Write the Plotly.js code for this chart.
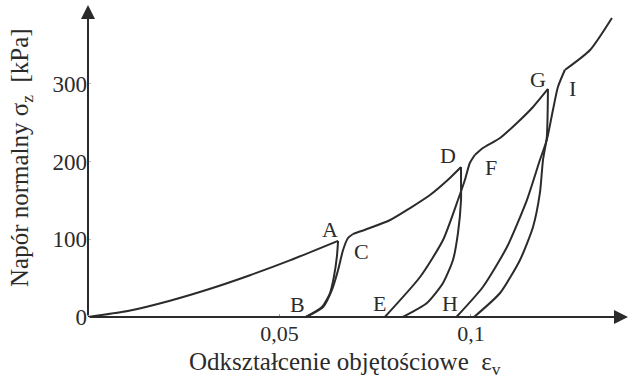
<!DOCTYPE html>
<html>
<head>
<meta charset="utf-8">
<script src="https://cdn.plot.ly/plotly-3.0.1.min.js"></script>
<style>
  html, body { margin: 0; padding: 0; background: #ffffff; }
  #chart { width: 629px; height: 379px; }
</style>
</head>
<body>
<div id="chart"></div>
<script>
// Volumetric strain (εv) vs. normal stress σz [kPa] – loading / unloading / reloading cycles

// Virgin loading O → A
const strainOA = [0, 0.011, 0.0214, 0.0319, 0.0423, 0.0527, 0.0653];
const stressOA = [0, 8.4, 21, 36.4, 53.8, 72.9, 98];

// Unloading A → B
const strainAB = [0.0653, 0.0650, 0.0642, 0.0632, 0.0611, 0.0569];
const stressAB = [98, 78.5, 51.5, 30.9, 12.9, 0];

// Reloading B → C
const strainBC = [0.0569, 0.0614, 0.0637, 0.0653, 0.0666, 0.0679, 0.0692];
const stressBC = [0, 12.9, 34.8, 60.5, 86.3, 101.7, 106.9];

// Loading C → D
const strainCD = [0.0692, 0.0736, 0.0789, 0.0841, 0.0893, 0.0945, 0.0974];
const stressCD = [106.9, 114.6, 124.9, 140.3, 157.1, 179, 193.1];

// Unloading D → E
const strainDE = [0.0974, 0.0974, 0.0974, 0.0966, 0.0953, 0.0927, 0.0885, 0.0822];
const stressDE = [193.1, 172.5, 150.6, 108.1, 73.4, 43.8, 18, 0];

// Reloading E → F
const strainEF = [0.0775, 0.0867, 0.0927, 0.0966, 0.0984, 0.0997, 0.1010];
const stressEF = [0, 51.5, 99.1, 150.6, 176.4, 198.3, 208.6];

// Loading F → G
const strainFG = [0.1010, 0.1031, 0.1076, 0.1120, 0.1162, 0.1201];
const stressFG = [208.6, 217.6, 230.5, 249.8, 270.4, 293.6];

// Unloading G → H
const strainGH = [0.1201, 0.1198, 0.1188, 0.1180, 0.1162, 0.1128, 0.1076, 0.1008];
const stressGH = [293.6, 231.7, 202.1, 159.7, 115.9, 73.4, 30.9, 0];

// Reloading H → I
const strainHI = [0.0962, 0.1031, 0.1094, 0.1146, 0.1180, 0.1198, 0.1214, 0.1227, 0.1245];
const stressHI = [0, 38.6, 90.1, 150.6, 202.1, 227.9, 266.5, 296.1, 318];

// Loading beyond I
const strainIEnd = [0.1245, 0.1311, 0.1368];
const stressIEnd = [318, 343.8, 385];

// Point labels
const pointNames = ['A', 'B', 'C', 'D', 'E', 'F', 'G', 'H', 'I'];
const pointStrain = [0.0632, 0.0548, 0.0715, 0.0940, 0.0762, 0.1052, 0.1175, 0.0945, 0.1266];
const pointStress = [113.3, 16.7, 84.2, 208.5, 18, 192, 306.4, 18, 294.7];

// Axis ticks
const strainTicks = [0.05, 0.1];
const strainTickText = ['0,05', '0,1'];
const stressTicks = [0, 100, 200, 300];
const stressTickText = ['0', '100', '200', '300'];

// Axis titles
const strainTitle = 'Odkształcenie objętościowe\u00a0\u00a0ε<sub>v</sub>';
const stressTitle = 'Napór normalny σ<sub>z</sub>\u00a0\u00a0[kPa]';

const ink = '#2b2b2b';
const serif = 'Liberation Serif';

const segments = [
  [strainOA, stressOA], [strainAB, stressAB], [strainBC, stressBC],
  [strainCD, stressCD], [strainDE, stressDE], [strainEF, stressEF],
  [strainFG, stressFG], [strainGH, stressGH], [strainHI, stressHI],
  [strainIEnd, stressIEnd]
];

const traces = segments.map(([xs, ys]) => ({
  x: xs, y: ys,
  type: 'scatter', mode: 'lines',
  line: { color: ink, width: 2, shape: 'spline', smoothing: 0.6 },
  hoverinfo: 'skip', showlegend: false, cliponaxis: false
}));

const xMax = 0.141;
const yMax = 401.7;

const annotations = pointNames.map((name, i) => ({
  x: pointStrain[i], y: pointStress[i], xref: 'x', yref: 'y',
  text: name, showarrow: false,
  font: { family: serif, size: 22, color: ink }
}));

// Axis arrows
annotations.push({
  x: xMax, y: 0, ax: 0, ay: 0, xref: 'x', yref: 'y', axref: 'x', ayref: 'y',
  text: '', showarrow: true, arrowhead: 2, arrowsize: 1.4, arrowwidth: 2,
  arrowcolor: ink, standoff: 0, startstandoff: 0
});
annotations.push({
  x: 0, y: yMax, ax: 0, ay: 0, xref: 'x', yref: 'y', axref: 'x', ayref: 'y',
  text: '', showarrow: true, arrowhead: 2, arrowsize: 1.4, arrowwidth: 2,
  arrowcolor: ink, standoff: 0, startstandoff: 0
});

// Axis titles
annotations.push({
  x: 0.475, y: -0.15, xref: 'paper', yref: 'paper',
  xanchor: 'center', yanchor: 'middle',
  text: strainTitle, showarrow: false,
  font: { family: serif, size: 25, color: ink }
});
annotations.push({
  x: -0.122, y: 0.51, xref: 'paper', yref: 'paper',
  xanchor: 'center', yanchor: 'middle', textangle: -90,
  text: stressTitle, showarrow: false,
  font: { family: serif, size: 25, color: ink }
});

const layout = {
  width: 629, height: 379,
  margin: { l: 88, r: 1, t: 5, b: 62 },
  paper_bgcolor: '#ffffff', plot_bgcolor: '#ffffff',
  font: { family: serif, color: ink, size: 22 },
  xaxis: {
    range: [0, xMax], showgrid: false, zeroline: false, showline: false,
    tickmode: 'array', tickvals: strainTicks, ticktext: strainTickText,
    ticks: 'inside', ticklen: 3, tickwidth: 1, tickcolor: '#999',
    ticklabelstandoff: 1,
    tickfont: { family: serif, size: 22, color: ink }
  },
  yaxis: {
    range: [0, yMax], showgrid: false, zeroline: false, showline: false,
    tickmode: 'array', tickvals: stressTicks, ticktext: stressTickText,
    ticks: 'inside', ticklen: 3, tickwidth: 1, tickcolor: '#bbb',
    tickfont: { family: serif, size: 23, color: ink }
  },
  annotations: annotations,
  showlegend: false
};

Plotly.newPlot('chart', traces, layout, { displayModeBar: false, staticPlot: true });
</script>
</body>
</html>
